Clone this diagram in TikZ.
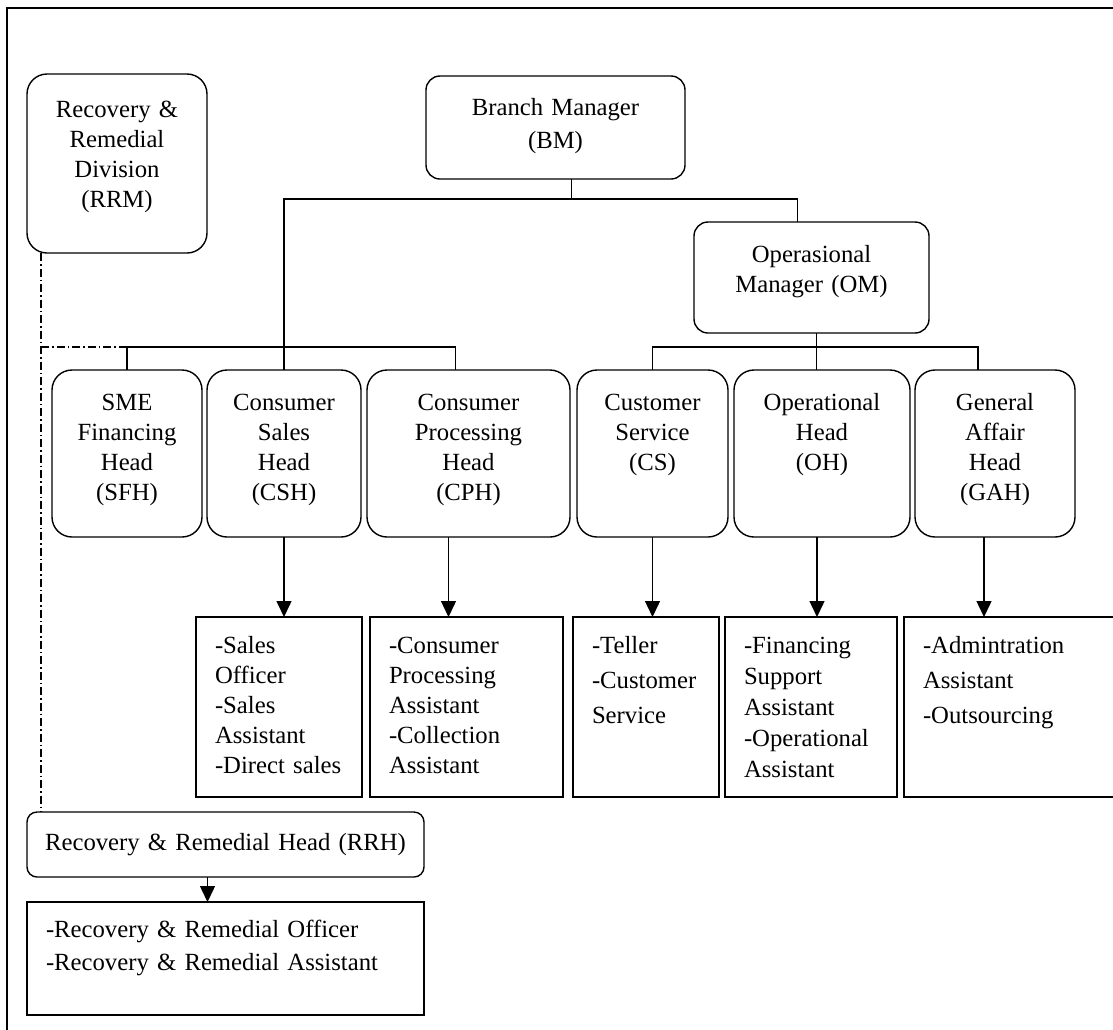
\documentclass[tikz,border=0pt]{standalone}
\usepackage{fontspec}
\setmainfont{Liberation Serif}
\usetikzlibrary{positioning,arrows.meta}

\begin{document}
\begin{tikzpicture}[
x=1pt, y=-1pt,
font=\fontsize{24.7}{30}\selectfont,
line width=1.4pt,
every node/.style={outer sep=0pt},
topnode/.style={draw, rounded corners=14pt, align=center, inner sep=0pt},
headnode/.style={draw, rounded corners=20pt, align=center, inner sep=0pt, text height=40pt, text depth=127pt},
listnode/.style={draw, align=left, inner xsep=19pt, inner ysep=0pt, text height=36pt, text depth=144pt},
arr/.style={-{Triangle[length=16pt,width=15pt]}},
rrmlink/.style={dash pattern=on 8pt off 3pt on 1.5pt off 3pt},
]
%Frame
\useasboundingbox (0,0) rectangle (1113,1029);
\draw (1120,8) -- (7,8) -- (7,1040);

%Nodes
\node[topnode, rounded corners=20pt, text width=180pt, text height=43pt, text depth=136pt, anchor=north west] (rrm) at (27,74) {Recovery \&\\Remedial\\Division\\(RRM)};
\node[topnode, text width=259pt, text height=39pt, text depth=64pt, font=\fontsize{24.7}{33}\selectfont, anchor=north west] (bm) at (426,76) {Branch Manager\\(BM)};
\node[topnode, text width=235pt, text height=40pt, text depth=71pt, anchor=north west] (om) at (694,222) {Operasional\\Manager (OM)};

\node[headnode, text width=150pt, anchor=north west] (sfh) at (52,370) {SME\\Financing\\Head\\(SFH)};
\node[headnode, text width=154pt, right=5pt of sfh]  (csh) {Consumer\\Sales\\Head\\(CSH)};
\node[headnode, text width=203pt, right=6pt of csh]  (cph) {Consumer\\Processing\\Head\\(CPH)};
\node[headnode, text width=151pt, right=7pt of cph]  (cs)  {Customer\\Service\\(CS)};
\node[headnode, text width=176pt, right=6pt of cs]   (oh)  {Operational\\Head\\(OH)};
\node[headnode, text width=160pt, right=5pt of oh]   (gah) {General\\Affair\\Head\\(GAH)};

\node[listnode, text width=128pt, anchor=north west] (sales) at (196,617) {-Sales\\Officer\\-Sales\\Assistant\\-Direct sales};
\node[listnode, text width=155pt, anchor=north west] (processing) at (370,617) {-Consumer\\Processing\\Assistant\\-Collection\\Assistant};
\node[listnode, text width=108pt, font=\fontsize{24.7}{35}\selectfont, anchor=north west] (teller) at (573,617) {-Teller\\-Customer\\Service};
\node[listnode, text width=134pt, font=\fontsize{24.7}{31}\selectfont, anchor=north west] (financing) at (725,617) {-Financing\\Support\\Assistant\\-Operational\\Assistant};
\node[listnode, text width=192pt, font=\fontsize{24.7}{35}\selectfont, anchor=north west] (admin) at (904,617) {-Admintration\\Assistant\\-Outsourcing};

\node[topnode, rounded corners=10pt, text width=397pt, text height=38pt, text depth=27pt, anchor=north west] (rrh) at (27,812) {Recovery \& Remedial Head (RRH)};
\node[listnode, text width=359pt, text height=35pt, text depth=78pt, font=\fontsize{24.7}{33}\selectfont, anchor=north west] (recovery) at (27,902) {-Recovery \& Remedial Officer\\-Recovery \& Remedial Assistant};

%Lines
\coordinate (bmjoin) at ([xshift=16pt,yshift=-20pt]bm.south);
\coordinate (omjoin) at ([xshift=5pt,yshift=-14pt]om.south);
\draw ([xshift=16pt]bm.south) -- (bmjoin);
\draw (csh.north) |- (bmjoin) -| ([xshift=-14pt]om.north);
\draw ([xshift=5pt]om.south) -- ([xshift=5pt]om.south |- oh.north);
\draw (cs.north) |- (omjoin) -| ([xshift=-17pt]gah.north);
\draw (sfh.north) |- (csh.north |- omjoin) -| ([xshift=-13pt]cph.north);

\draw[rrmlink] ([xshift=14pt]rrm.south west) -- ([xshift=14pt]rrh.north west);
\draw[rrmlink] ([xshift=14pt]rrm.south west |- omjoin) -- (sfh.north |- omjoin);

\draw[arr] (csh.south) -- (csh.south |- sales.north);
\draw[arr] ([xshift=-20pt]cph.south) -- ([xshift=-20pt]cph.south |- processing.north);
\draw[arr] (cs.south) -- (cs.south |- teller.north);
\draw[arr] ([xshift=-5pt]oh.south) -- ([xshift=-5pt]oh.south |- financing.north);
\draw[arr] ([xshift=-11pt]gah.south) -- ([xshift=-11pt]gah.south |- admin.north);
\draw[arr] ([xshift=-18pt]rrh.south) -- ([xshift=-18pt]rrh.south |- recovery.north);
\end{tikzpicture}
\end{document}
